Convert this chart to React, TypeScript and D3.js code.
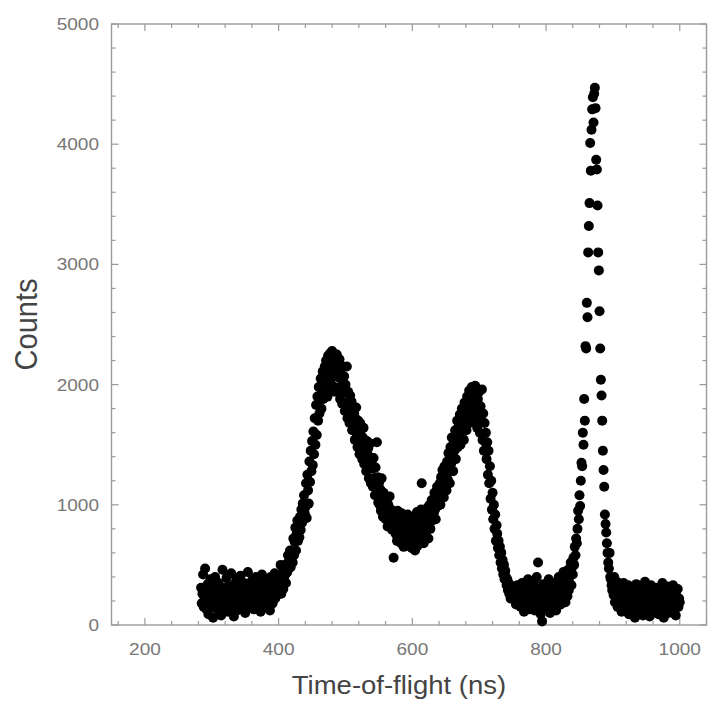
import React from "react";
import * as d3 from "d3";

// Histogram bins: time-of-flight (ns) starts at tofStart, one bin per ns
const tofStart = 284;
const counts: number[] = [
  310, 180, 260, 420, 150, 240,
  470, 200, 130, 290, 340, 90, 250, 180, 380, 220,
  160, 270, 60, 330, 210, 400, 140, 280, 190, 250,
  350, 120, 230, 300, 80, 260, 460, 170, 310, 200,
  240, 140, 390, 270, 110, 320, 200, 260, 150, 430,
  180, 290, 230, 70, 340, 260, 190, 380, 120, 280,
  220, 310, 160, 410, 250, 130, 290, 200, 350, 240,
  100, 270, 330, 190, 440, 220, 150, 300, 260, 180,
  370, 210, 280, 130, 320, 250, 400, 170, 230, 290,
  190, 350, 260, 110, 300, 420, 220, 160, 340, 270,
  230, 380, 150, 290, 210, 330, 260, 120, 400, 240,
  300, 180, 350, 270, 430, 220, 310, 380, 250, 340,
  290, 410, 330, 500, 260, 370, 440, 300, 390, 460,
  420, 350, 510, 440, 580, 470, 530, 620, 480, 560,
  600, 520, 720, 580, 690, 810, 620, 760, 870, 700,
  820, 730, 900, 790, 960, 850, 1010, 880, 1080, 930,
  980, 1180, 890, 1250, 1120, 1010, 1360, 1190, 1450, 1280,
  1530, 1330, 1610, 1420, 1720, 1500, 1830, 1580, 1900, 1700,
  1980, 1760, 1870, 2050, 1800, 1930, 2110, 1880, 2000, 2150,
  1960, 2200, 2080, 1900, 2240, 2120, 1980, 2260, 2050, 2180,
  2280, 1990, 2150, 2230, 1940, 2190, 2100, 2250, 1950, 2160,
  2060, 2210, 1880, 2130, 1990, 1840, 2150, 1930, 2070, 1780,
  2000, 1850, 2150, 1720, 1940, 1800, 1680, 1910, 1700, 1860,
  1620, 1800, 1650, 1760, 1540, 1720, 1810, 1580, 1480, 1700,
  1590, 1420, 1680, 1500, 1630, 1380, 1560, 1640, 1340, 1510,
  1450, 1280, 1530, 1360, 1470, 1220, 1400, 1510, 1180, 1350,
  1300, 1150, 1390, 1220, 1080, 1310, 1140, 1520, 1230, 1020,
  1180, 1000, 1130, 950, 1220, 1050, 900, 1100, 980, 1060,
  880, 1030, 940, 820, 1000, 900, 1070, 830, 960, 870,
  790, 940, 560, 850, 920, 760, 880, 700, 950, 820,
  890, 720, 840, 680, 930, 770, 860, 650, 810, 900,
  700, 850, 760, 920, 660, 810, 880, 720, 840, 640,
  780, 900, 690, 830, 620, 870, 750, 940, 660, 800,
  880, 700, 830, 960, 1180, 740, 900, 680, 950, 820,
  760, 910, 840, 980, 720, 880, 1000, 800, 930, 1040,
  870, 1010, 930, 1100, 960, 880, 1080, 1150, 990, 1120,
  1040, 1180, 1000, 1230, 1090, 1290, 1140, 1060, 1320, 1180,
  1250, 1120, 1360, 1210, 1430, 1280, 1180, 1480, 1340, 1560,
  1400, 1280, 1530, 1450, 1620, 1380, 1580, 1700, 1480, 1640,
  1560, 1750, 1500, 1680, 1800, 1600, 1720, 1540, 1850, 1680,
  1780, 1620, 1900, 1720, 1840, 1950, 1680, 1880, 1760, 1980,
  1850, 1700, 1930, 1800, 1990, 1760, 1920, 1640, 1880, 1720,
  1940, 1600, 1820, 1700, 1960, 1540, 1760, 1450, 1680, 1520,
  1600, 1380, 1520, 1250, 1450, 1180, 1320, 1050, 1200, 960,
  1100, 880, 1000, 800, 920, 700, 830, 760, 640, 700,
  580, 650, 520, 600, 470, 540, 420, 500, 380, 450,
  400, 330, 380, 290, 350, 260, 330, 220, 300, 250,
  300, 240, 320, 210, 280, 170, 260, 330, 190, 250,
  220, 300, 150, 260, 350, 180, 240, 110, 290, 200,
  340, 160, 250, 380, 210, 130, 290, 230, 170, 310,
  250, 190, 360, 120, 270, 220, 400, 160, 520, 240,
  180, 300, 90, 250, 30, 210, 340, 150, 270, 200,
  320, 140, 260, 190, 380, 230, 100, 290, 170, 350,
  210, 280, 150, 330, 240, 120, 300, 190, 260, 400,
  230, 310, 170, 280, 360, 200, 440, 250, 330, 190,
  300, 380, 240, 460, 290, 350, 410, 520, 330, 480,
  420, 560, 500, 650, 580, 720, 680, 800, 950, 880,
  1080, 990, 1200, 1350, 1320, 1600, 1500, 1880, 1700, 2320,
  2300, 2680, 2560, 3100, 3320, 3510, 4010, 3780, 4120, 4290,
  4390, 4180, 4420, 4470, 4300, 3870, 3790, 3490, 3100, 2950,
  2610, 2300, 2040, 1910, 1700, 1450, 1290, 1150, 920, 840,
  770, 680, 600, 520, 470, 600, 400, 380, 330, 290,
  350, 250, 400, 190, 300, 220, 360, 150, 280, 230,
  180, 320, 240, 110, 270, 200, 350, 160, 230, 300,
  140, 260, 190, 330, 90, 240, 180, 290, 130, 220,
  310, 170, 250, 60, 200, 340, 150, 270, 210, 120,
  260, 190, 320, 140, 230, 80, 280, 210, 360, 170,
  240, 130, 300, 190, 250, 70, 220, 330, 160, 270,
  200, 290, 110, 240, 180, 310, 150, 260, 90, 220,
  300, 170, 240, 130, 350, 200, 60, 260, 190, 280,
  150, 230, 320, 100, 250, 180, 290, 140, 210, 260,
  330, 120, 200, 270, 80, 240, 170, 300, 150, 220,
  190,
];

const xDomain: [number, number] = [150, 1040];
const yDomain: [number, number] = [0, 5000];
const xMajorTicks = [200, 400, 600, 800, 1000];
const yMajorTicks = [0, 1000, 2000, 3000, 4000, 5000];
const xMinorStep = 40;
const yMinorStep = 200;
const xLabel = "Time-of-flight (ns)";
const yLabel = "Counts";

const W = 710;
const H = 706;
const left = 111.5;
const right = 706.5;
const top = 24;
const bottom = 625;

export default function App() {
  const x = d3.scaleLinear().domain(xDomain).range([left, right]);
  const y = d3.scaleLinear().domain(yDomain).range([bottom, top]);

  const xMinor = d3.range(160, xDomain[1] + 0.1, xMinorStep);
  const yMinor = d3.range(0, yDomain[1] + 0.1, yMinorStep);

  const axisColor = "#9a9a9a";
  const tickColor = "#777";
  const font = "'Liberation Sans', Arial, Helvetica, sans-serif";

  return (
    <svg
      width={W}
      height={H}
      style={{ position: "absolute", left: 0, top: 0, background: "#fff" }}
    >
      <rect
        x={left}
        y={top}
        width={right - left}
        height={bottom - top}
        fill="none"
        stroke={axisColor}
        strokeWidth={1.4}
      />
      {xMinor.map((v) => {
        const major = xMajorTicks.includes(v);
        const len = major ? 7 : 4;
        return (
          <g key={"xt" + v} stroke={axisColor} strokeWidth={1.2}>
            <line x1={x(v)} x2={x(v)} y1={bottom} y2={bottom - len} />
            <line x1={x(v)} x2={x(v)} y1={top} y2={top + len} />
          </g>
        );
      })}
      {yMinor.map((v) => {
        const major = yMajorTicks.includes(v);
        const len = major ? 7 : 4;
        return (
          <g key={"yt" + v} stroke={axisColor} strokeWidth={1.2}>
            <line x1={left} x2={left + len} y1={y(v)} y2={y(v)} />
            <line x1={right} x2={right - len} y1={y(v)} y2={y(v)} />
          </g>
        );
      })}
      {xMajorTicks.map((v) => (
        <text
          key={"xl" + v}
          transform={`translate(${x(v)},${655}) scale(1.12,1)`}
          textAnchor="middle"
          fontFamily={font}
          fontSize={17}
          fill={tickColor}
        >
          {v}
        </text>
      ))}
      {yMajorTicks.map((v) => (
        <text
          key={"yl" + v}
          transform={`translate(${99},${y(v) + 6}) scale(1.12,1)`}
          textAnchor="end"
          fontFamily={font}
          fontSize={17}
          fill={tickColor}
        >
          {v}
        </text>
      ))}
      <text
        transform={`translate(${(left + right) / 2 - 10},${694}) scale(1.1,1)`}
        textAnchor="middle"
        fontFamily={font}
        fontSize={25}
        fill="#444"
      >
        {xLabel}
      </text>
      <text
        transform={`translate(${37},${(top + bottom) / 2}) scale(1.1,1) rotate(-90)`}
        textAnchor="middle"
        fontFamily={font}
        fontSize={29}
        fill="#444"
      >
        {yLabel}
      </text>
      <g fill="#000">
        {counts.map((c, i) => (
          <circle key={i} cx={x(tofStart + i)} cy={y(c)} r={5} />
        ))}
      </g>
    </svg>
  );
}
